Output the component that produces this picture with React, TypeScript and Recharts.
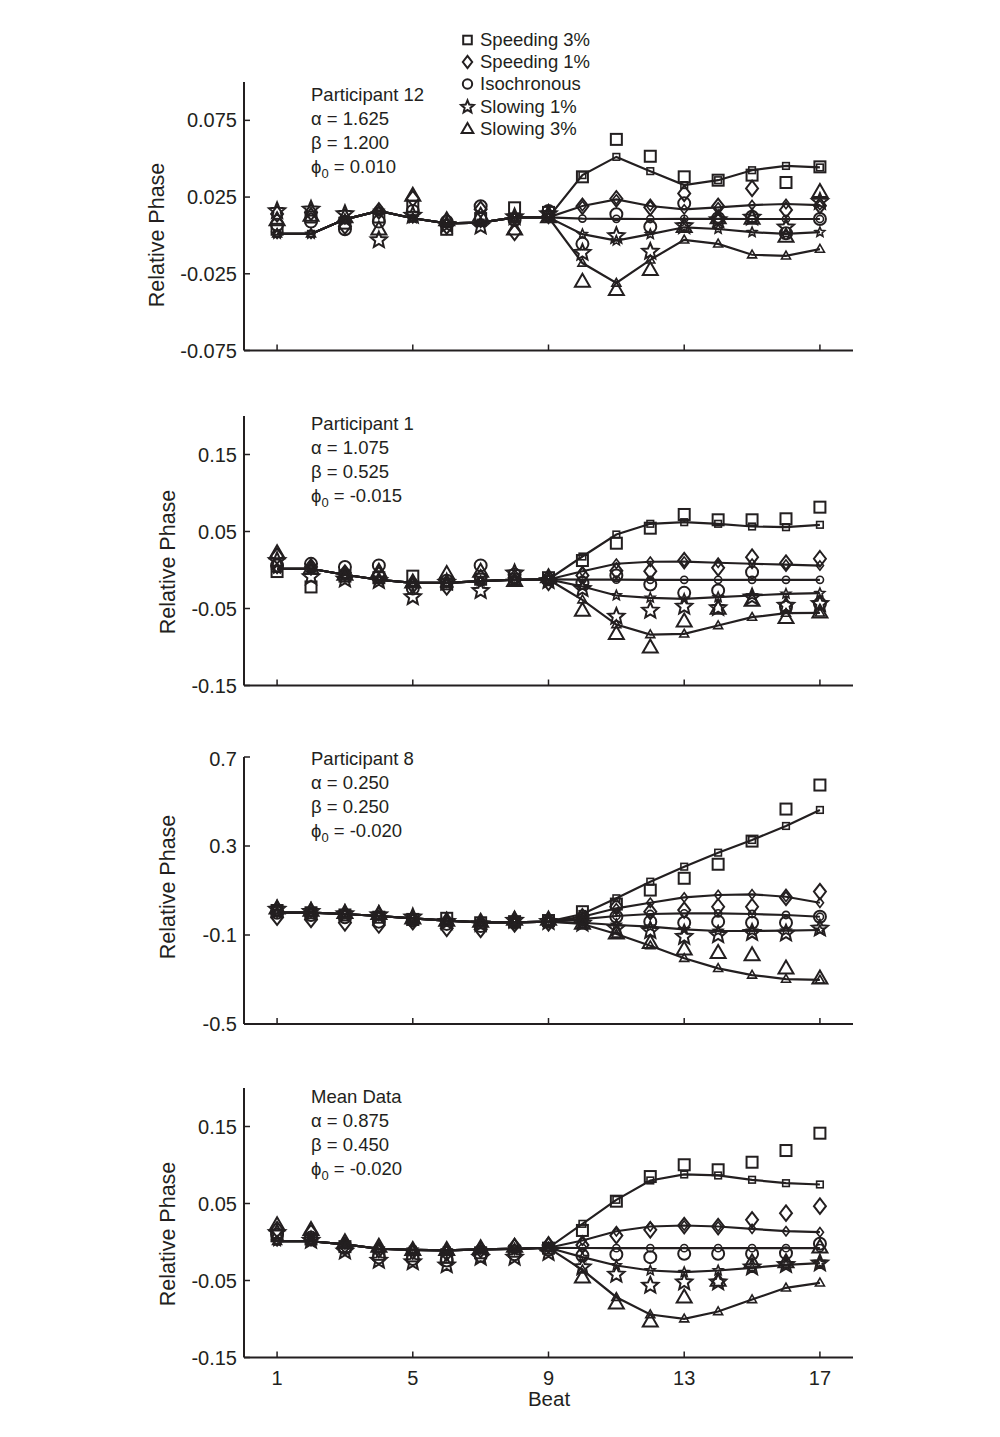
import React from "react";
import { ComposedChart, Line, XAxis, YAxis } from "recharts";

const ink = "#231f20";
const font = '"Liberation Sans", Arial, Helvetica, sans-serif';

const beats = [1, 2, 3, 4, 5, 6, 7, 8, 9, 10, 11, 12, 13, 14, 15, 16, 17];
const beatTicks = [1, 5, 9, 13, 17];

const conditions = ["Speeding 3%", "Speeding 1%", "Isochronous", "Slowing 1%", "Slowing 3%"];
const shapes = ["square", "diamond", "circle", "star", "triangle"];

// Participant 12 — model fit (beats 1-9 shared, then one tail per condition)
const p12FitStart = [0.001, 0.001, 0.0105, 0.016, 0.0112, 0.0079, 0.0083, 0.0118, 0.0118];
const p12FitSp3 = [0.0393, 0.0512, 0.0419, 0.0328, 0.036, 0.0425, 0.0453, 0.0443];
const p12FitSp1 = [0.0192, 0.0235, 0.0192, 0.017, 0.0183, 0.0198, 0.0205, 0.0198];
const p12FitIso = [0.011, 0.0108, 0.0107, 0.0108, 0.0108, 0.0107, 0.0107, 0.0107];
const p12FitSl1 = [0.0008, -0.0034, 0.0008, 0.0053, 0.0042, 0.0021, 0.001, 0.0021];
const p12FitSl3 = [-0.018, -0.031, -0.0159, -0.0029, -0.0055, -0.0126, -0.0133, -0.0089];
// Participant 12 — observed
const p12Sp3 = [0.004, 0.012, 0.008, 0.012, 0.019, 0.004, 0.011, 0.018, 0.015, 0.0382, 0.0626, 0.0516, 0.0382, 0.036, 0.0393, 0.0345, 0.0447];
const p12Sp1 = [0.014, 0.015, 0.006, 0.016, 0.024, 0.006, 0.017, 0.002, 0.013, 0.019, 0.0239, 0.0183, 0.0274, 0.019, 0.0306, 0.0166, 0.0194];
const p12Iso = [0.007, 0.009, 0.004, 0.009, 0.016, 0.009, 0.019, 0.01, 0.016, -0.0055, 0.0138, 0.0057, 0.0209, 0.0112, 0.0122, 0.0014, 0.0107];
const p12Sl1 = [0.016, 0.017, 0.014, -0.003, 0.013, 0.007, 0.006, 0.012, 0.014, -0.0112, -0.0003, -0.0105, 0.0062, 0.0101, 0.0118, 0.0053, 0.022];
const p12Sl3 = [0.01, 0.013, 0.012, 0.004, 0.026, 0.01, 0.013, 0.004, 0.012, -0.03, -0.0354, -0.0224, 0.0057, 0.0114, 0.011, -0.0007, 0.0284];

// Participant 1
const p1FitStart = [0.0016, 0.0016, -0.0062, -0.0127, -0.0166, -0.0166, -0.0145, -0.0127, -0.0123];
const p1FitSp3 = [0.0175, 0.0461, 0.06, 0.0621, 0.06, 0.0565, 0.0556, 0.0587];
const p1FitSp1 = [-0.0016, 0.0081, 0.0107, 0.011, 0.0094, 0.0081, 0.0071, 0.0058];
const p1FitIso = [-0.0125, -0.0126, -0.0127, -0.0127, -0.0127, -0.0127, -0.0127, -0.0127];
const p1FitSl1 = [-0.0214, -0.0331, -0.0361, -0.0374, -0.0353, -0.0331, -0.0309, -0.03];
const p1FitSl3 = [-0.0387, -0.0708, -0.0838, -0.083, -0.0721, -0.0613, -0.0561, -0.0556];
const p1Sp3 = [-0.002, -0.022, -0.008, -0.01, -0.008, -0.018, -0.012, -0.012, -0.01, 0.0123, 0.0348, 0.0543, 0.0721, 0.0652, 0.0652, 0.0665, 0.0816];
const p1Sp1 = [0.018, 0.004, -0.004, -0.006, -0.02, -0.022, -0.01, -0.01, -0.016, -0.0071, -0.001, -0.0016, 0.0123, 0.0029, 0.0166, 0.0089, 0.0146];
const p1Iso = [0.006, 0.008, 0.004, 0.006, -0.024, -0.014, 0.006, -0.006, -0.012, -0.017, -0.0071, -0.0188, -0.0297, -0.0266, -0.0028, -0.0482, -0.0439];
const p1Sl1 = [0.012, -0.009, -0.012, -0.014, -0.035, -0.016, -0.027, -0.004, -0.014, -0.0244, -0.0604, -0.0526, -0.0474, -0.0491, -0.0353, -0.0461, -0.0439];
const p1Sl3 = [0.022, 0.002, -0.006, -0.002, -0.016, -0.005, -0.002, -0.014, -0.009, -0.0526, -0.083, -0.1003, -0.0665, -0.05, -0.0396, -0.0621, -0.0548];

// Participant 8
const p8FitStart = [0.0002, 0.0002, -0.0056, -0.0146, -0.025, -0.0357, -0.043, -0.043, -0.04];
const p8FitSp3 = [-0.0056, 0.065, 0.1396, 0.207, 0.27, 0.327, 0.39, 0.462];
const p8FitSp1 = [-0.018, 0.02, 0.045, 0.069, 0.0798, 0.083, 0.072, 0.045];
const p8FitIso = [-0.029, -0.0146, -0.0056, -0.0025, -0.0025, -0.0056, -0.01, -0.018];
const p8FitSl1 = [-0.045, -0.055, -0.0627, -0.0745, -0.082, -0.082, -0.0806, -0.0775];
const p8FitSl3 = [-0.0506, -0.0955, -0.148, -0.2047, -0.25, -0.28, -0.298, -0.302];
const p8Sp3 = [0.01, 0.0, -0.01, -0.02, -0.03, -0.025, -0.045, -0.04, -0.035, 0.0047, 0.039, 0.102, 0.155, 0.218, 0.322, 0.466, 0.574];
const p8Sp1 = [-0.02, -0.03, -0.045, -0.055, -0.04, -0.07, -0.075, -0.05, -0.045, -0.018, 0.027, 0.005, 0.012, 0.027, 0.027, 0.069, 0.095];
const p8Iso = [0.0, -0.01, -0.02, -0.04, -0.035, -0.05, -0.06, -0.045, -0.04, -0.025, -0.018, -0.04, -0.045, -0.04, -0.045, -0.045, -0.018];
const p8Sl1 = [0.015, 0.005, -0.005, -0.01, -0.02, -0.04, -0.05, -0.035, -0.04, -0.048, -0.07, -0.081, -0.1075, -0.1, -0.0897, -0.0925, -0.07];
const p8Sl3 = [0.02, 0.01, 0.0, -0.005, -0.025, -0.035, -0.04, -0.03, -0.03, -0.048, -0.0925, -0.1346, -0.164, -0.18, -0.19, -0.25, -0.295];

// Mean data
const meanFitStart = [0.001, 0.001, -0.0032, -0.0088, -0.0101, -0.011, -0.0097, -0.0088, -0.0075];
const meanFitSp3 = [0.0236, 0.0548, 0.0799, 0.0877, 0.0864, 0.0808, 0.0764, 0.0747];
const meanFitSp1 = [0.002, 0.014, 0.0201, 0.0214, 0.0201, 0.0171, 0.014, 0.0127];
const meanFitIso = [-0.0078, -0.008, -0.008, -0.008, -0.008, -0.008, -0.008, -0.008];
const meanFitSl1 = [-0.0197, -0.0305, -0.037, -0.0392, -0.037, -0.0335, -0.0296, -0.0275];
const meanFitSl3 = [-0.0361, -0.0717, -0.0942, -0.0997, -0.0903, -0.0747, -0.0595, -0.053];
const meanSp3 = [0.008, 0.004, -0.006, -0.016, -0.018, -0.02, -0.014, -0.012, -0.008, 0.015, 0.053, 0.085, 0.1003, 0.0938, 0.1036, 0.1188, 0.1413];
const meanSp1 = [0.016, 0.012, -0.004, -0.01, -0.012, -0.014, -0.01, -0.006, -0.004, -0.004, 0.0084, 0.0158, 0.0214, 0.0201, 0.0288, 0.0374, 0.0465];
const meanIso = [0.01, 0.006, -0.008, -0.02, -0.022, -0.024, -0.018, -0.016, -0.01, -0.0175, -0.0162, -0.0197, -0.0153, -0.0153, -0.0153, -0.0145, -0.0023];
const meanSl1 = [0.012, 0.002, -0.012, -0.024, -0.026, -0.03, -0.02, -0.02, -0.014, -0.0327, -0.0422, -0.0565, -0.0522, -0.0522, -0.0327, -0.0296, -0.0275];
const meanSl3 = [0.022, 0.016, 0.0, -0.006, -0.01, -0.01, -0.008, -0.006, -0.004, -0.0457, -0.0795, -0.1029, -0.0717, -0.05, -0.0262, -0.0262, -0.0068];

function buildRows(start: number[], fits: number[][], obs: number[][]) {
  return beats.map((beat, i) => {
    const row: Record<string, number> = { beat };
    fits.forEach((tail, k) => {
      row[`f${k}`] = i < start.length ? start[i] : tail[i - start.length];
    });
    obs.forEach((vals, k) => {
      row[`d${k}`] = vals[i];
    });
    return row;
  });
}

type Size = "big" | "small" | "legend";

function Marker({ shape, cx, cy, size }: { shape: string; cx: number; cy: number; size: Size }) {
  const f = size === "big" ? 1 : size === "legend" ? 0.78 : 0.6;
  const sw = size === "small" ? 1.6 : 2;
  const common = { fill: "none", stroke: ink, strokeWidth: sw };
  if (shape === "square") {
    const s = 11 * f;
    return <rect x={cx - s / 2} y={cy - s / 2} width={s} height={s} {...common} />;
  }
  if (shape === "diamond") {
    const w = 12 * f;
    const h = 15.5 * f;
    return <polygon points={`${cx},${cy - h / 2} ${cx + w / 2},${cy} ${cx},${cy + h / 2} ${cx - w / 2},${cy}`} {...common} />;
  }
  if (shape === "circle") {
    return <circle cx={cx} cy={cy} r={6 * f} {...common} />;
  }
  if (shape === "triangle") {
    const w = 15 * f;
    const h = 13 * f;
    return <polygon points={`${cx},${cy - h * 0.6} ${cx + w / 2},${cy + h * 0.4} ${cx - w / 2},${cy + h * 0.4}`} {...common} />;
  }
  const R = 8.5 * f;
  const r = R * 0.45;
  const pts: string[] = [];
  for (let k = 0; k < 10; k++) {
    const a = -Math.PI / 2 + (k * Math.PI) / 5;
    const rr = k % 2 === 0 ? R : r;
    pts.push(`${cx + rr * Math.cos(a)},${cy + rr * Math.sin(a)}`);
  }
  return <polygon points={pts.join(" ")} {...common} />;
}

function dotFor(shape: string, size: Size) {
  return (p: any) => {
    if (p.cx == null || p.cy == null) return <g key={`e${p.index}`} />;
    return (
      <g key={`${shape}${size}${p.index}`}>
        <Marker shape={shape} cx={p.cx} cy={p.cy} size={size} />
      </g>
    );
  };
}

type PanelProps = {
  top: number;
  plotH: number;
  domain: [number, number];
  ticks: number[];
  digits: number;
  rows: Record<string, number>[];
  showBeat?: boolean;
};

function Panel({ top, plotH, domain, ticks, digits, rows, showBeat }: PanelProps) {
  const tickFont = { fill: ink, fontSize: 20, fontFamily: font };
  return (
    <div style={{ position: "absolute", left: 0, top: top - 10 }}>
      <ComposedChart width={1000} height={plotH + 80} data={rows} margin={{ top: 10, right: 147, bottom: 0, left: 0 }}>
        <XAxis
          type="number"
          dataKey="beat"
          domain={[0.025, 17.975]}
          ticks={beatTicks}
          allowDataOverflow
          height={70}
          tickSize={-6}
          tickMargin={19}
          axisLine={{ stroke: ink, strokeWidth: 2 }}
          tickLine={{ stroke: ink, strokeWidth: 1.5 }}
          tick={tickFont}
          tickFormatter={(v: number) => (showBeat ? String(v) : "")}
        />
        <YAxis
          type="number"
          domain={domain}
          ticks={ticks}
          allowDataOverflow
          width={244}
          tickSize={-6}
          tickMargin={13}
          axisLine={{ stroke: ink, strokeWidth: 2 }}
          tickLine={{ stroke: ink, strokeWidth: 1.5 }}
          tick={tickFont}
          tickFormatter={(v: number) => v.toFixed(digits)}
        />
        {shapes.map((s, k) => (
          <Line
            key={`fit${k}`}
            type="linear"
            dataKey={`f${k}`}
            stroke={ink}
            strokeWidth={2.2}
            dot={dotFor(s, "small")}
            activeDot={false}
            isAnimationActive={false}
          />
        ))}
        {shapes.map((s, k) => (
          <Line
            key={`obs${k}`}
            type="linear"
            dataKey={`d${k}`}
            stroke="none"
            dot={dotFor(s, "big")}
            activeDot={false}
            isAnimationActive={false}
          />
        ))}
      </ComposedChart>
    </div>
  );
}

function Note({ x, y, title, a, b, phi }: { x: number; y: number; title: string; a: string; b: string; phi: string }) {
  return (
    <div style={{ position: "absolute", left: x, top: y - 12, fontFamily: font, fontSize: 18.5, lineHeight: "24px", color: ink, whiteSpace: "nowrap" }}>
      <div>{title}</div>
      <div>α = {a}</div>
      <div>β = {b}</div>
      <div>
        ϕ<span style={{ fontSize: 13, position: "relative", top: 5 }}>0</span> = {phi}
      </div>
    </div>
  );
}

function YTitle({ x, y }: { x: number; y: number }) {
  return (
    <div
      style={{
        position: "absolute",
        left: x,
        top: y,
        transform: "translate(-50%, -50%) rotate(-90deg)",
        fontFamily: font,
        fontSize: 21.5,
        color: ink,
        whiteSpace: "nowrap",
        lineHeight: "24px",
      }}
    >
      Relative Phase
    </div>
  );
}

const legendY = [39.5, 61.7, 83.5, 107, 128.5];

export default function App() {
  const p12Rows = buildRows(p12FitStart, [p12FitSp3, p12FitSp1, p12FitIso, p12FitSl1, p12FitSl3], [p12Sp3, p12Sp1, p12Iso, p12Sl1, p12Sl3]);
  const p1Rows = buildRows(p1FitStart, [p1FitSp3, p1FitSp1, p1FitIso, p1FitSl1, p1FitSl3], [p1Sp3, p1Sp1, p1Iso, p1Sl1, p1Sl3]);
  const p8Rows = buildRows(p8FitStart, [p8FitSp3, p8FitSp1, p8FitIso, p8FitSl1, p8FitSl3], [p8Sp3, p8Sp1, p8Iso, p8Sl1, p8Sl3]);
  const meanRows = buildRows(meanFitStart, [meanFitSp3, meanFitSp1, meanFitIso, meanFitSl1, meanFitSl3], [meanSp3, meanSp1, meanIso, meanSl1, meanSl3]);

  return (
    <div style={{ position: "absolute", left: 0, top: 0, width: 1000, height: 1437, background: "#ffffff", overflow: "hidden" }}>
      <Panel top={81.5} plotH={268.5} domain={[-0.075, 0.1]} ticks={[-0.075, -0.025, 0.025, 0.075]} digits={3} rows={p12Rows} />
      <Panel top={415.5} plotH={269.5} domain={[-0.15, 0.2]} ticks={[-0.15, -0.05, 0.05, 0.15]} digits={2} rows={p1Rows} />
      <Panel top={757} plotH={267} domain={[-0.5, 0.7]} ticks={[-0.5, -0.1, 0.3, 0.7]} digits={1} rows={p8Rows} />
      <Panel top={1087.5} plotH={269.5} domain={[-0.15, 0.2]} ticks={[-0.15, -0.05, 0.05, 0.15]} digits={2} rows={meanRows} showBeat />

      <YTitle x={157} y={235} />
      <YTitle x={168} y={562} />
      <YTitle x={168} y={887} />
      <YTitle x={168} y={1234} />

      <Note x={311} y={95} title="Participant 12" a="1.625" b="1.200" phi="0.010" />
      <Note x={311} y={424} title="Participant 1" a="1.075" b="0.525" phi="-0.015" />
      <Note x={311} y={759} title="Participant 8" a="0.250" b="0.250" phi="-0.020" />
      <Note x={311} y={1097} title="Mean Data" a="0.875" b="0.450" phi="-0.020" />

      {conditions.map((name, k) => (
        <div key={name} style={{ position: "absolute", left: 455, top: legendY[k] - 12, height: 24, display: "flex", alignItems: "center", fontFamily: font, fontSize: 18.5, color: ink, whiteSpace: "nowrap" }}>
          <svg width={24} height={24} style={{ display: "block" }}>
            <Marker shape={shapes[k]} cx={12.5} cy={12} size="legend" />
          </svg>
          <span style={{ marginLeft: 1 }}>{name}</span>
        </div>
      ))}

      <div style={{ position: "absolute", left: 549, top: 1399, transform: "translate(-50%, -50%)", fontFamily: font, fontSize: 20.5, color: ink, lineHeight: "24px" }}>
        Beat
      </div>
    </div>
  );
}
